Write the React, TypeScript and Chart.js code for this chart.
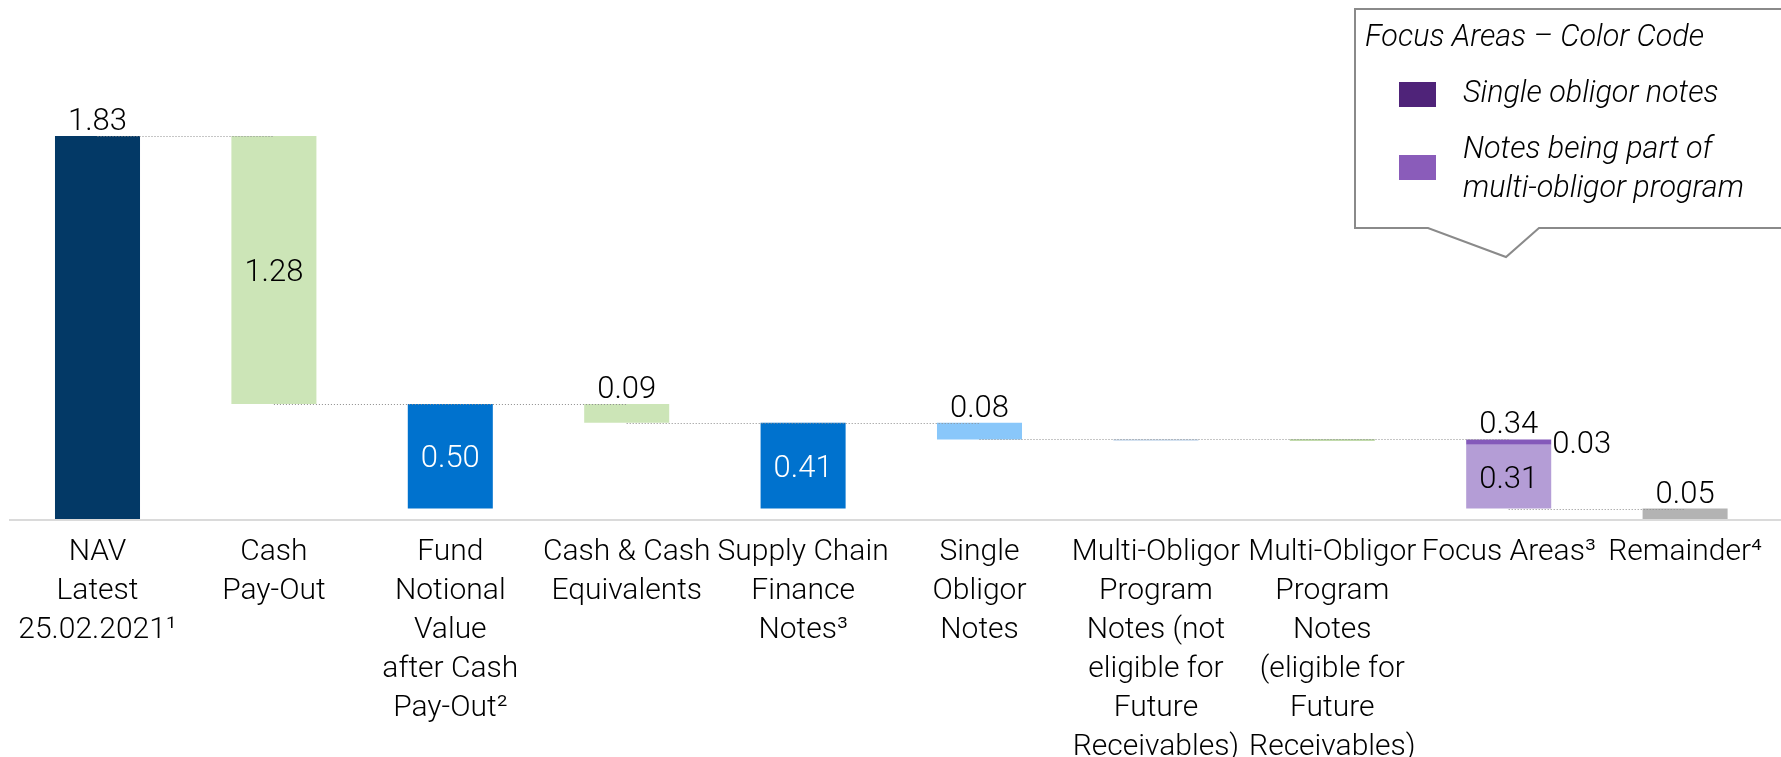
import React, { useEffect, useRef } from "react";
import { Chart, registerables } from "chart.js";

Chart.register(...registerables);

// ---------- DATA ----------
const categories: string[][] = [
  ["NAV", "Latest", "25.02.2021¹"],
  ["Cash", "Pay-Out"],
  ["Fund", "Notional", "Value", "after Cash", "Pay-Out²"],
  ["Cash & Cash", "Equivalents"],
  ["Supply Chain", "Finance", "Notes³"],
  ["Single", "Obligor", "Notes"],
  ["Multi-Obligor", "Program", "Notes (not", "eligible for", "Future", "Receivables)"],
  ["Multi-Obligor", "Program", "Notes", "(eligible for", "Future", "Receivables)"],
  ["Focus Areas³"],
  ["Remainder⁴"],
];

// waterfall bar extents (USD bn): low / high of each floating bar
const barLow = [0, 0.55, 0.05, 0.46, 0.05, 0.38, 0.375, 0.375, 0.05, 0];
const barHigh = [1.83, 1.83, 0.55, 0.55, 0.46, 0.46, 0.38, 0.38, 0.355, 0.05];

// focus areas: single obligor strip on top of the multi-obligor part
const focusIndex = 8;
const focusSingleLow = 0.355;
const focusSingleHigh = 0.38;

// value labels
const valueLabels = ["1.83", "1.28", "0.50", "0.09", "0.41", "0.08", "", "", "0.34", "0.05"];
const labelPlacement = ["above", "inside", "inside", "above", "inside", "above", "none", "none", "above", "above"];
const focusMultiLabel = "0.31";
const focusSingleLabel = "0.03";

// dotted connectors
const connectorLevel = [1.83, 0.55, 0.46, 0.38, 0.05];
const connectorFrom = [0, 1, 3, 5, 8];
const connectorTo = [1, 3, 5, 8, 9];

// legend
const legendTitle = "Focus Areas – Color Code";
const legendItems: string[][] = [["Single obligor notes"], ["Notes being part of", "multi-obligor program"]];

// ---------- STYLE ----------
const barColors = ["#033966", "#cce5b7", "#0072ce", "#cce5b7", "#0072ce", "#89c7fa", "#a9c6e3", "#86b75a", "#b49dd6", "#b3b3b3"];
const labelColors = ["#000", "#000", "#fff", "#000", "#fff", "#000", "#000", "#000", "#000", "#000"];
const focusSingleColor = "#8459ba";
const legendColors = ["#4f2379", "#8a5cba"];
const FONT = "Roboto";

export default function App() {
  const ref = useRef<HTMLCanvasElement>(null);

  useEffect(() => {
    const canvas = ref.current!;

    const overlay = {
      id: "overlay",
      afterDatasetsDraw(chart: any) {
        const ctx = chart.ctx as CanvasRenderingContext2D;
        const ys = chart.scales.y;
        const meta0 = chart.getDatasetMeta(0);
        const meta1 = chart.getDatasetMeta(1);
        const area = chart.chartArea;

        // axis line
        ctx.save();
        ctx.strokeStyle = "#dadada";
        ctx.lineWidth = 2;
        ctx.beginPath();
        ctx.moveTo(9, area.bottom + 1);
        ctx.lineTo(chart.width, area.bottom + 1);
        ctx.stroke();
        ctx.restore();

        // connectors
        ctx.save();
        ctx.strokeStyle = "#8c8c8c";
        ctx.lineWidth = 1;
        ctx.setLineDash([1, 2]);
        connectorLevel.forEach((lvl, k) => {
          const y = Math.round(ys.getPixelForValue(lvl)) + 0.5;
          const x1 = meta0.data[connectorFrom[k]].x;
          const x2 = meta0.data[connectorTo[k]].x;
          ctx.beginPath();
          ctx.moveTo(x1, y);
          ctx.lineTo(x2, y);
          ctx.stroke();
        });
        ctx.restore();

        // value labels
        const size = 31;
        const capH = size * 0.711;
        ctx.save();
        ctx.font = `300 ${size}px ${FONT}`;
        ctx.textBaseline = "alphabetic";
        ctx.textAlign = "center";
        meta0.data.forEach((bar: any, i: number) => {
          const txt = valueLabels[i];
          if (!txt || labelPlacement[i] === "none") return;
          let top = Math.min(bar.y, bar.base);
          const bottom = Math.max(bar.y, bar.base);
          if (i === focusIndex) {
            const b1 = meta1.data[i];
            top = Math.min(top, b1.y, b1.base);
          }
          ctx.fillStyle = labelColors[i];
          if (labelPlacement[i] === "above") {
            ctx.fillText(txt, bar.x, top - 6);
          } else {
            ctx.fillText(txt, bar.x, (top + bottom) / 2 + capH / 2);
          }
        });
        // focus area split labels
        const fb = meta0.data[focusIndex];
        const fTop = Math.min(fb.y, fb.base);
        const fBot = Math.max(fb.y, fb.base);
        ctx.fillStyle = "#000";
        ctx.fillText(focusMultiLabel, fb.x, (fTop + fBot) / 2 + capH / 2);
        const sb = meta1.data[focusIndex];
        const sMid = (sb.y + sb.base) / 2;
        ctx.textAlign = "left";
        ctx.fillText(focusSingleLabel, sb.x + sb.width / 2 + 1, sMid + capH / 2);
        ctx.restore();
      },
      afterDraw(chart: any) {
        const ctx = chart.ctx as CanvasRenderingContext2D;
        ctx.save();
        // callout box
        ctx.strokeStyle = "#8a8a8a";
        ctx.lineWidth = 2;
        ctx.beginPath();
        ctx.moveTo(chart.width + 5, 9);
        ctx.lineTo(1355, 9);
        ctx.lineTo(1355, 228);
        ctx.lineTo(1428, 228);
        ctx.lineTo(1506, 257);
        ctx.lineTo(1539, 228);
        ctx.lineTo(chart.width + 5, 228);
        ctx.stroke();

        ctx.fillStyle = "#000";
        ctx.textAlign = "left";
        ctx.textBaseline = "alphabetic";
        ctx.font = `italic 300 30.5px ${FONT}`;
        ctx.fillText(legendTitle, 1365, 46);

        // items
        ctx.fillStyle = legendColors[0];
        ctx.fillRect(1399, 82, 37, 25);
        ctx.fillStyle = legendColors[1];
        ctx.fillRect(1399, 155, 37, 25);
        ctx.fillStyle = "#000";
        ctx.fillText(legendItems[0][0], 1463, 102);
        ctx.fillText(legendItems[1][0], 1463, 158);
        ctx.fillText(legendItems[1][1], 1463, 197);
        ctx.restore();
      },
    };

    const chart = new Chart(canvas, {
      type: "bar",
      data: {
        labels: categories as any,
        datasets: [
          {
            data: barLow.map((l, i) => [l, barHigh[i]]) as any,
            backgroundColor: barColors,
            borderWidth: 0,
            grouped: false,
            barPercentage: 0.482,
            categoryPercentage: 1,
          } as any,
          {
            data: categories.map((_, i) => (i === focusIndex ? [focusSingleLow, focusSingleHigh] : null)) as any,
            backgroundColor: focusSingleColor,
            borderWidth: 0,
            grouped: false,
            barPercentage: 0.482,
            categoryPercentage: 1,
          } as any,
        ],
      },
      options: {
        responsive: false,
        animation: false,
        devicePixelRatio: 1,
        layout: { padding: { top: 16.7, left: 9.3, right: 7.7, bottom: 0 } },
        plugins: { legend: { display: false }, tooltip: { enabled: false } },
        scales: {
          x: {
            grid: { display: false, drawTicks: false },
            border: { display: false },
            ticks: {
              autoSkip: false,
              maxRotation: 0,
              minRotation: 0,
              padding: 14,
              color: "#000",
              font: { family: FONT, size: 30, weight: "300" as any, lineHeight: "39px" as any },
            },
            afterFit: (scale: any) => {
              scale.height = 238;
            },
          },
          y: {
            display: false,
            min: 0,
            max: 2.4,
          },
        },
      },
      plugins: [overlay],
    });
    return () => chart.destroy();
  }, []);

  return (
    <div style={{ position: "fixed", left: 0, top: 0, width: 1781, height: 757, background: "#fff" }}>
      <canvas ref={ref} width={1781} height={757} style={{ display: "block", width: 1781, height: 757 }} />
    </div>
  );
}
